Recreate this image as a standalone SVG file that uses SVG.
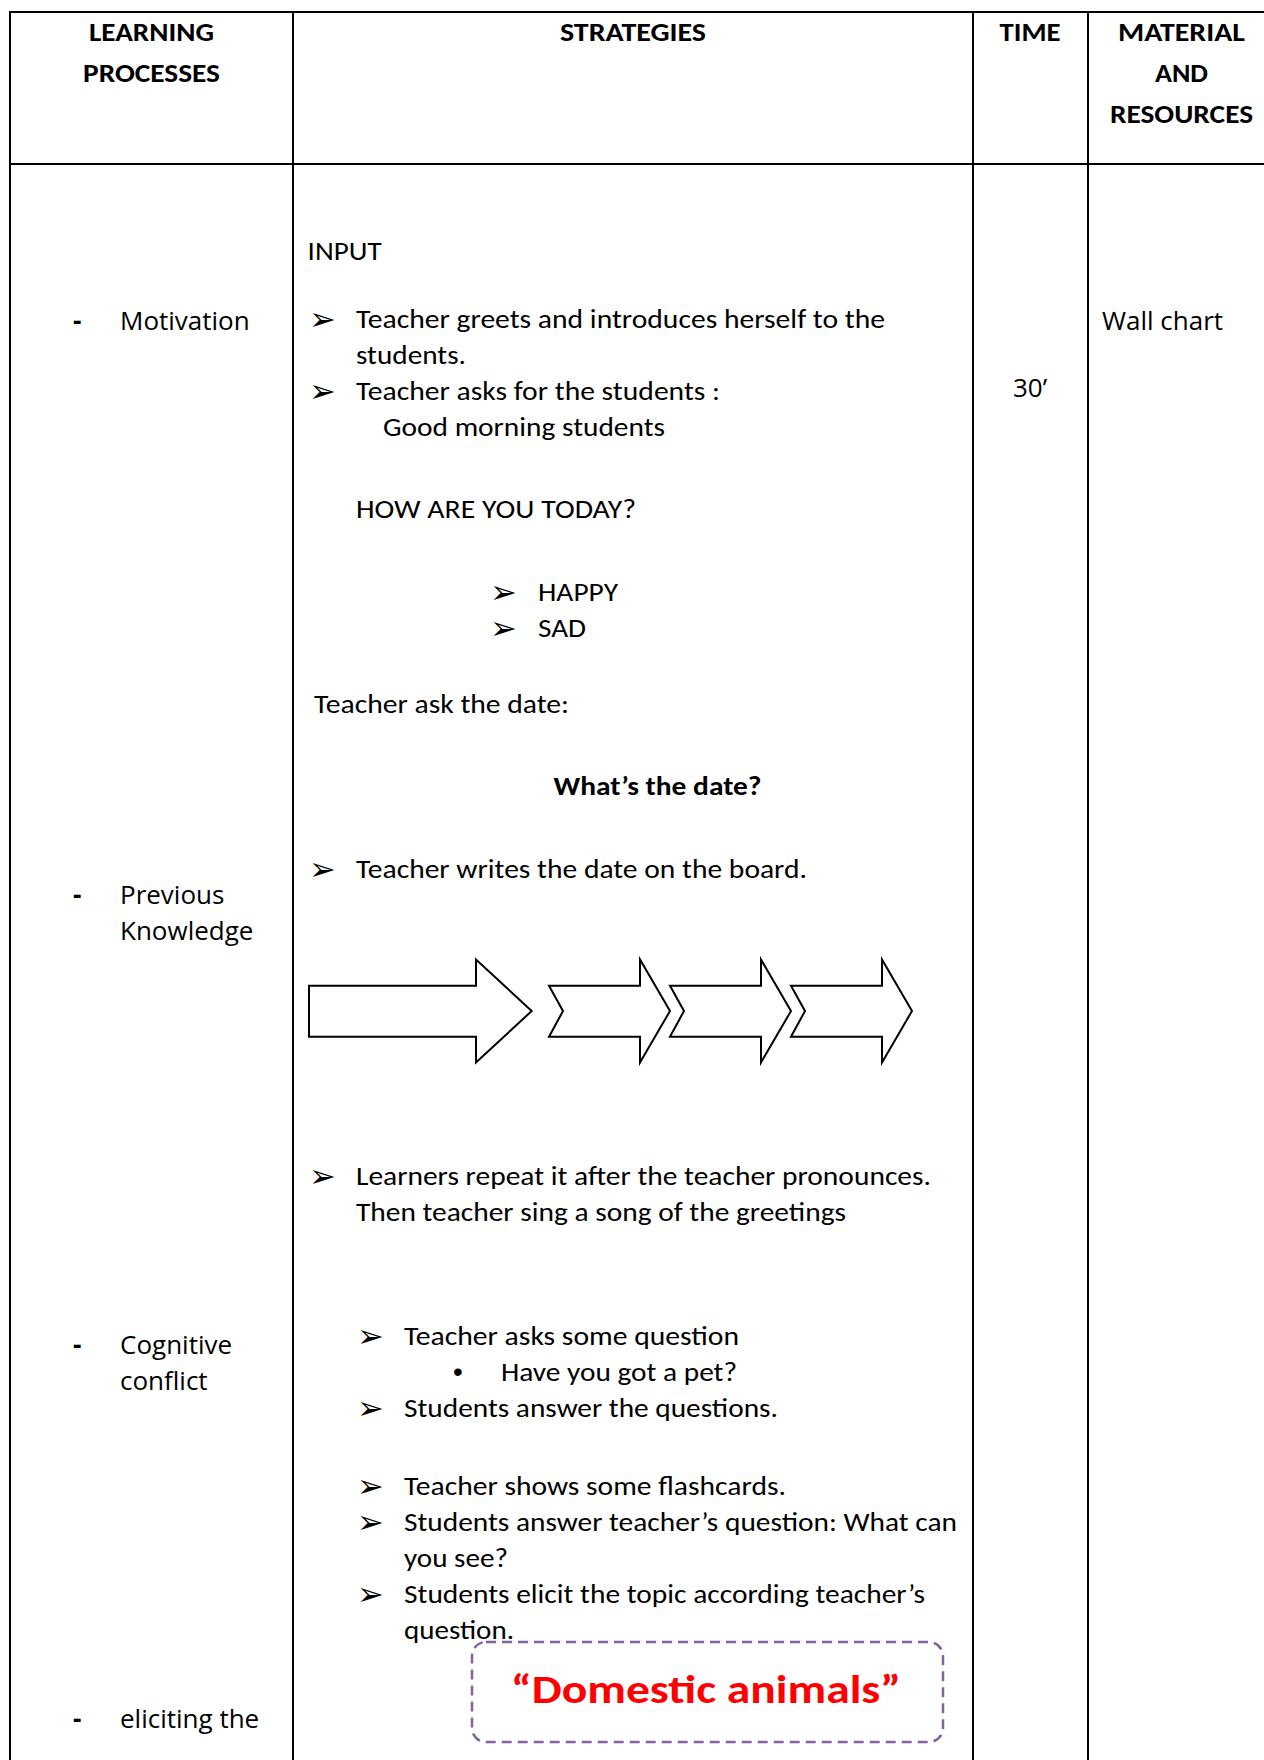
<svg xmlns="http://www.w3.org/2000/svg" width="1264" height="1760" viewBox="0 0 1264 1760">
<style>
.grid{stroke:#000;stroke-width:2;fill:none}
.hd{font-family:Carlito,Lato,"Liberation Sans",sans-serif;font-weight:700;font-size:26.5px;fill:#000;text-anchor:middle}
.tx{font-family:Carlito,Lato,"Liberation Sans",sans-serif;font-size:26.5px;fill:#000}
.bd{font-weight:700}
.lf{font-family:"Open Sans","Noto Sans",sans-serif;font-size:26px;fill:#000}
.dash{font-family:"Open Sans","Noto Sans",sans-serif;font-size:26px;font-weight:700;fill:#000}
.ar{font-family:"DejaVu Sans",sans-serif;font-size:32px;fill:#000}
.dot{font-family:"Liberation Sans",sans-serif;font-size:28px;fill:#000;text-anchor:middle}
.shape{fill:#fff;stroke:#000;stroke-width:2;stroke-linejoin:miter}
.topic{fill:none;stroke:#8064A2;stroke-width:2.5;stroke-dasharray:10 6}
.red{font-family:Carlito,Lato,"Liberation Sans",sans-serif;font-weight:700;font-size:41px;fill:#FF0000;text-anchor:middle}
</style>
<rect width="1264" height="1760" fill="#fff"/>
<g id="grid">
<line class="grid" x1="10" y1="12" x2="1264" y2="12"/>
<line class="grid" x1="10" y1="164" x2="1264" y2="164"/>
<line class="grid" x1="10" y1="11" x2="10" y2="1760"/>
<line class="grid" x1="293" y1="11" x2="293" y2="1760"/>
<line class="grid" x1="973" y1="11" x2="973" y2="1760"/>
<line class="grid" x1="1088" y1="11" x2="1088" y2="1760"/>
</g>
<g id="header">
<text class="hd" x="151.5" y="40.5" textLength="125" lengthAdjust="spacingAndGlyphs">LEARNING</text>
<text class="hd" x="151.5" y="82" textLength="137" lengthAdjust="spacingAndGlyphs">PROCESSES</text>
<text class="hd" x="633" y="40.5" textLength="146" lengthAdjust="spacingAndGlyphs">STRATEGIES</text>
<text class="hd" x="1030" y="40.5" textLength="61" lengthAdjust="spacingAndGlyphs">TIME</text>
<text class="hd" x="1181.5" y="40.5" textLength="127" lengthAdjust="spacingAndGlyphs">MATERIAL</text>
<text class="hd" x="1181.5" y="82" textLength="53" lengthAdjust="spacingAndGlyphs">AND</text>
<text class="hd" x="1181.5" y="123" textLength="143" lengthAdjust="spacingAndGlyphs">RESOURCES</text>
</g>
<g id="processes">
<text class="dash" x="73" y="330">-</text>
<text class="lf" x="120" y="330">Motivation</text>
<text class="dash" x="73" y="904">-</text>
<text class="lf" x="120" y="904">Previous</text>
<text class="lf" x="120" y="940">Knowledge</text>
<text class="dash" x="73" y="1354">-</text>
<text class="lf" x="120" y="1354">Cognitive</text>
<text class="lf" x="120" y="1390">conflict</text>
<text class="dash" x="73" y="1728">-</text>
<text class="lf" x="120" y="1728">eliciting the</text>
</g>
<g id="strategies">
<text class="tx" x="307.6" y="260" textLength="74" lengthAdjust="spacingAndGlyphs">INPUT</text>
<text class="ar" x="309" y="330">➢</text>
<text class="tx" x="356" y="328" textLength="529" lengthAdjust="spacingAndGlyphs">Teacher greets and introduces herself to the</text>
<text class="tx" x="356" y="364" textLength="110" lengthAdjust="spacingAndGlyphs">students.</text>
<text class="ar" x="309" y="402">➢</text>
<text class="tx" x="356" y="400" textLength="364" lengthAdjust="spacingAndGlyphs">Teacher asks for the students :</text>
<text class="tx" x="383" y="436" textLength="282" lengthAdjust="spacingAndGlyphs">Good morning students</text>
<text class="tx" x="356" y="518" textLength="280" lengthAdjust="spacingAndGlyphs">HOW ARE YOU TODAY?</text>
<text class="ar" x="490" y="603">➢</text>
<text class="tx" x="538" y="601" textLength="80" lengthAdjust="spacingAndGlyphs">HAPPY</text>
<text class="ar" x="490" y="639">➢</text>
<text class="tx" x="538" y="637" textLength="48" lengthAdjust="spacingAndGlyphs">SAD</text>
<text class="tx" x="314" y="713" textLength="255" lengthAdjust="spacingAndGlyphs">Teacher ask the date:</text>
<text class="tx bd" x="553.5" y="795" textLength="208" lengthAdjust="spacingAndGlyphs">What’s the date?</text>
<text class="ar" x="309" y="880">➢</text>
<text class="tx" x="356" y="878" textLength="451" lengthAdjust="spacingAndGlyphs">Teacher writes the date on the board.</text>
<text class="ar" x="309" y="1187">➢</text>
<text class="tx" x="356" y="1185" textLength="575" lengthAdjust="spacingAndGlyphs">Learners repeat it after the teacher pronounces.</text>
<text class="tx" x="356" y="1221" textLength="490" lengthAdjust="spacingAndGlyphs">Then teacher sing a song of the greetings</text>
<text class="ar" x="357" y="1347">➢</text>
<text class="tx" x="404" y="1345" textLength="335" lengthAdjust="spacingAndGlyphs">Teacher asks some question</text>
<text class="dot" x="458" y="1381">•</text>
<text class="tx" x="501" y="1381" textLength="236" lengthAdjust="spacingAndGlyphs">Have you got a pet?</text>
<text class="ar" x="357" y="1419">➢</text>
<text class="tx" x="404" y="1417" textLength="374" lengthAdjust="spacingAndGlyphs">Students answer the questions.</text>
<text class="ar" x="357" y="1497">➢</text>
<text class="tx" x="404" y="1495" textLength="382" lengthAdjust="spacingAndGlyphs">Teacher shows some flashcards.</text>
<text class="ar" x="357" y="1533">➢</text>
<text class="tx" x="404" y="1531" textLength="553" lengthAdjust="spacingAndGlyphs">Students answer teacher’s question: What can</text>
<text class="tx" x="404" y="1567" textLength="104" lengthAdjust="spacingAndGlyphs">you see?</text>
<text class="ar" x="357" y="1605">➢</text>
<text class="tx" x="404" y="1603" textLength="521" lengthAdjust="spacingAndGlyphs">Students elicit the topic according teacher’s</text>
<text class="tx" x="404" y="1639" textLength="110" lengthAdjust="spacingAndGlyphs">question.</text>
</g>
<g id="arrows">
<polygon class="shape" points="309,985.7 476,985.7 476,959.5 531.7,1011 476,1062.5 476,1036.7 309,1036.7"/>
<polygon class="shape" points="549,985.7 640,985.7 640,959.5 670,1011 640,1062.5 640,1036.7 549,1036.7 563,1011"/>
<polygon class="shape" points="670,985.7 761,985.7 761,959.5 791,1011 761,1062.5 761,1036.7 670,1036.7 684,1011"/>
<polygon class="shape" points="791,985.7 882,985.7 882,959.5 912,1011 882,1062.5 882,1036.7 791,1036.7 805,1011"/>
</g>
<g id="topic">
<rect class="topic" x="472" y="1642" width="471" height="100" rx="14" ry="14"/>
<text class="red" x="706" y="1703" textLength="390" lengthAdjust="spacingAndGlyphs">“Domestic animals”</text>
</g>
<g id="time">
<text class="lf" x="1030" y="397" text-anchor="middle">30’</text>
</g>
<g id="materials">
<text class="lf" x="1102" y="330">Wall chart</text>
</g>
</svg>
